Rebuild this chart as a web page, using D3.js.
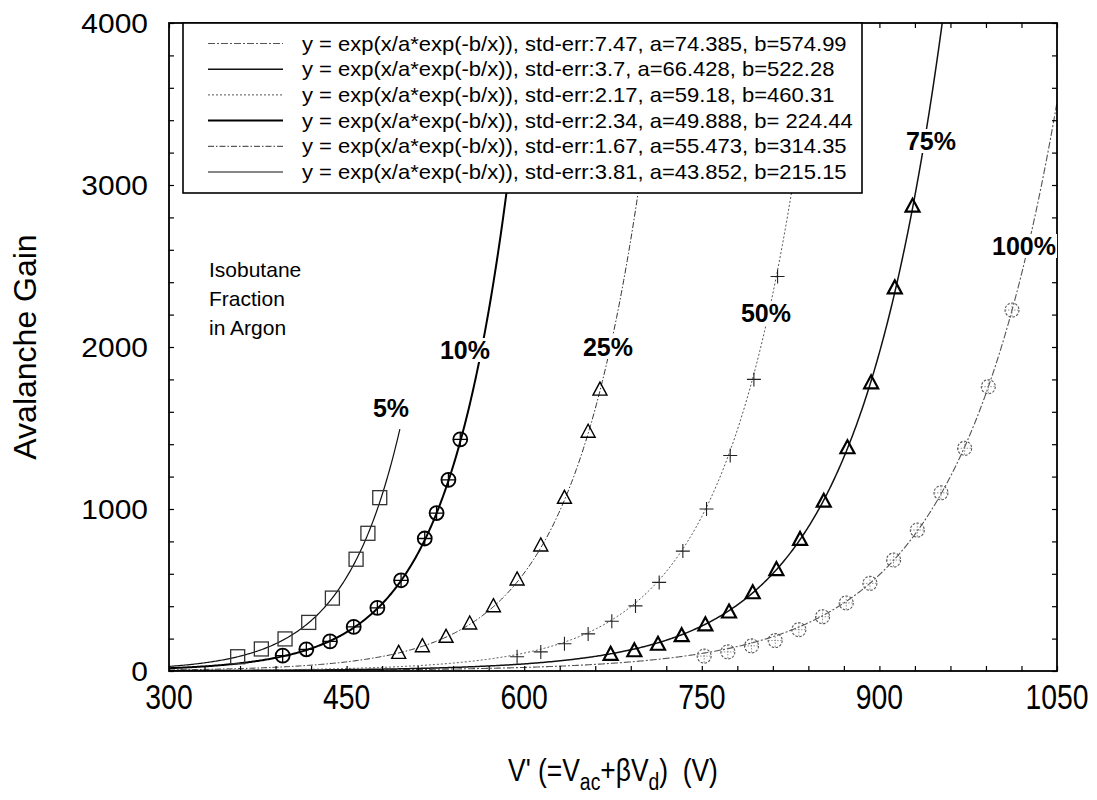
<!DOCTYPE html>
<html>
<head>
<meta charset="utf-8">
<script src="https://cdn.jsdelivr.net/npm/d3@7"></script>
<style>
  body { margin: 0; background: #fff; }
  svg { display: block; }
  text { font-family: "Liberation Sans", Arial, Helvetica, sans-serif; fill: #000; }
</style>
</head>
<body>
<svg id="chart" width="1097" height="800"></svg>
<script>
// Fit parameters of y = exp(x/a*exp(-b/x)) for each isobutane fraction
const fractions = ['100%', '75%', '50%', '10%', '25%', '5%'];
const fitA = [74.385, 66.428, 59.18, 49.888, 55.473, 43.852];
const fitB = [574.99, 522.28, 460.31, 224.44, 314.35, 215.15];
const fitBText = ['574.99', '522.28', '460.31', ' 224.44', '314.35', '215.15'];
const fitAText = ['74.385', '66.428', '59.18', '49.888', '55.473', '43.852'];
const stdErr = ['7.47', '3.7', '2.17', '2.34', '1.67', '3.81'];
const fitEnd = [1050, 1050, 1050, 1050, 1050, 495];

// Measured gain versus effective voltage V'
const v5 = [358, 378, 398, 418, 438, 458, 468, 478];
const gain5 = [88, 136, 198, 300, 450, 690, 850, 1070];
const v10 = [396, 416, 436, 456, 476, 496, 516, 526, 536, 546];
const gain10 = [95, 134, 183, 272, 390, 560, 818, 975, 1180, 1430];
const v25 = [494, 514, 534, 554, 574, 594, 614, 634, 654, 664];
const gain25 = [109, 150, 208, 290, 397, 562, 772, 1066, 1474, 1734];
const v50 = [594, 614, 634, 654, 674, 694, 714, 734, 754, 774, 794, 814];
const gain50 = [88, 118, 168, 229, 307, 402, 547, 740, 1000, 1330, 1800, 2435];
const v75 = [673, 693, 713, 733, 753, 773, 793, 813, 833, 853, 873, 893, 913, 928];
const gain75 = [100, 122, 162, 215, 282, 361, 480, 623, 809, 1045, 1375, 1776, 2362, 2866];
const v100 = [752, 772, 792, 812, 832, 852, 872, 892, 912, 932, 952, 972, 992, 1012];
const gain100 = [92, 118, 155, 188, 255, 335, 420, 541, 685, 870, 1100, 1375, 1755, 2228];

const xTicks = [300, 450, 600, 750, 900, 1050];
const yTicks = [0, 1000, 2000, 3000, 4000];

const W = 1097, H = 800;
const margin = { left: 169, right: 40, top: 23, bottom: 129 };
const svg = d3.select('#chart');
const x = d3.scaleLinear().domain([300, 1050]).range([margin.left, W - margin.right]);
const y = d3.scaleLinear().domain([0, 4000]).range([H - margin.bottom, margin.top]);
const [x0, x1] = x.range();
const [y0, y1] = y.range();

const series = [
  { v: v100, g: gain100, marker: 'circleDash', stroke: '#555', width: 1.1, dash: '7,2,2,2' },
  { v: v75, g: gain75, marker: 'triangleBold', stroke: '#111', width: 1.5, dash: null },
  { v: v50, g: gain50, marker: 'plus', stroke: '#555', width: 1, dash: '2,2' },
  { v: v10, g: gain10, marker: 'circlePlus', stroke: '#000', width: 2, dash: null },
  { v: v25, g: gain25, marker: 'triangle', stroke: '#333', width: 1, dash: '6,2,1.5,2' },
  { v: v5, g: gain5, marker: 'square', stroke: '#111', width: 1.2, dash: null }
];

svg.append('defs').append('clipPath').attr('id', 'plotClip')
  .append('rect').attr('x', x0).attr('y', y1).attr('width', x1 - x0).attr('height', y0 - y1);

// fitted curves
const line = d3.line().x(d => x(d[0])).y(d => y(d[1]));
const curves = svg.append('g').attr('clip-path', 'url(#plotClip)');
series.forEach((s, i) => {
  const pts = [];
  for (let v = 300; v <= fitEnd[i]; v += 1) {
    const g = Math.exp(v / fitA[i] * Math.exp(-fitB[i] / v));
    pts.push([v, Math.min(g, 6000)]);
    if (g > 6000) break;
  }
  curves.append('path').datum(pts)
    .attr('d', line).attr('fill', 'none')
    .attr('stroke', s.stroke).attr('stroke-width', s.width)
    .attr('stroke-dasharray', s.dash);
});

// markers
function drawMarker(g, type) {
  if (type === 'square') {
    g.append('rect').attr('x', -7).attr('y', -7).attr('width', 14).attr('height', 14)
      .attr('fill', 'none').attr('stroke', '#333').attr('stroke-width', 1.3);
  } else if (type === 'circlePlus') {
    g.append('circle').attr('r', 7).attr('fill', 'none').attr('stroke', '#000').attr('stroke-width', 1.8);
    g.append('path').attr('d', 'M-7,0H7M0,-7V7').attr('stroke', '#000').attr('stroke-width', 1.3);
  } else if (type === 'triangle' || type === 'triangleBold') {
    g.append('path').attr('d', 'M0,-8L7,5H-7Z').attr('fill', 'none')
      .attr('stroke', '#000').attr('stroke-width', type === 'triangleBold' ? 2.2 : 1.4)
      .attr('stroke-linejoin', 'miter');
  } else if (type === 'plus') {
    g.append('path').attr('d', 'M-7,0H7M0,-7V7').attr('stroke', '#222').attr('stroke-width', 1.1);
  } else if (type === 'circleDash') {
    g.append('circle').attr('r', 7).attr('fill', 'none').attr('stroke', '#555')
      .attr('stroke-width', 1.1).attr('stroke-dasharray', '2.5,1.5');
    g.append('path').attr('d', 'M-7,0H7M0,-7V7').attr('stroke', '#777').attr('stroke-width', 0.8)
      .attr('stroke-dasharray', '1.5,1.5');
  }
}
const markers = svg.append('g');
series.forEach(s => {
  s.v.forEach((v, k) => {
    const g = markers.append('g').attr('transform', `translate(${x(v)},${y(s.g[k])})`);
    drawMarker(g, s.marker);
  });
});

// frame and inward ticks
const minorX = d3.range(300, 1051, 30);
const minorY = d3.range(0, 4001, 200);
const axes = svg.append('g');
axes.append('g').attr('transform', `translate(0,${y0})`)
  .call(d3.axisBottom(x).tickValues(minorX).tickSize(-5).tickFormat(''));
axes.append('g').attr('transform', `translate(0,${y1})`)
  .call(d3.axisTop(x).tickValues(minorX).tickSize(-5).tickFormat(''));
axes.append('g').attr('transform', `translate(${x0},0)`)
  .call(d3.axisLeft(y).tickValues(minorY).tickSize(-5).tickFormat(''));
axes.append('g').attr('transform', `translate(${x1},0)`)
  .call(d3.axisRight(y).tickValues(minorY).tickSize(-5).tickFormat(''));
axes.selectAll('.domain').remove();
axes.selectAll('.tick line').attr('stroke', '#000').attr('stroke-width', 1.2);
svg.append('rect').attr('x', x0).attr('y', y1).attr('width', x1 - x0).attr('height', y0 - y1)
  .attr('fill', 'none').attr('stroke', '#000').attr('stroke-width', 1.8);

// tick labels
svg.append('g').selectAll('text').data(xTicks).join('text')
  .attr('transform', d => `translate(${x(d)},${y0 + 38}) scale(0.86,1.08)`)
  .attr('text-anchor', 'middle').attr('font-size', 33).text(d => d);
svg.append('g').selectAll('text').data(yTicks).join('text')
  .attr('transform', d => `translate(${x0 - 21},${y(d) + 10}) scale(1.07,1)`)
  .attr('text-anchor', 'end').attr('font-size', 28).text(d => d);

// axis titles
svg.append('text').attr('transform', `translate(36,347) rotate(-90)`)
  .attr('text-anchor', 'middle').attr('font-size', 32).text('Avalanche Gain');
const xt = svg.append('text').attr('transform', `translate(613,781) scale(0.88,1.05)`)
  .attr('text-anchor', 'middle').attr('font-size', 30);
xt.append('tspan').text("V' (=V");
xt.append('tspan').attr('dy', 9).attr('font-size', 22).text('ac');
xt.append('tspan').attr('dy', -9).text('+\u03B2V');
xt.append('tspan').attr('dy', 9).attr('font-size', 22).text('d');
xt.append('tspan').attr('dy', -9).text(')\u00A0\u00A0(V)');

// legend
const legX = 183, legY = y1, legW = 679, legH = 170;
const leg = svg.append('g');
leg.append('rect').attr('x', legX).attr('y', legY).attr('width', legW).attr('height', legH)
  .attr('fill', '#fff').attr('stroke', '#000').attr('stroke-width', 1.6);
series.forEach((s, i) => {
  const cy = 43.5 + i * 25.7;
  leg.append('line').attr('x1', 208).attr('x2', 283).attr('y1', cy).attr('y2', cy)
    .attr('stroke', s.stroke).attr('stroke-width', s.width).attr('stroke-dasharray', s.dash);
  leg.append('text').attr('transform', `translate(302,${cy + 7}) scale(1.1,1)`)
    .attr('font-size', 20)
    .text(`y = exp(x/a*exp(-b/x)), std-err:${stdErr[i]}, a=${fitAText[i]}, b=${fitBText[i]}`);
});

// curve labels with white backing
const labelPos = [[1024, 246], [931, 141], [766, 313], [465, 350], [608, 347], [391, 408]];
fractions.forEach((f, i) => {
  const [lx, ly] = labelPos[i];
  const t = svg.append('text').attr('x', lx).attr('y', ly + 9).attr('text-anchor', 'middle')
    .attr('font-size', 25).attr('font-weight', 'bold').text(f);
  const bb = t.node().getBBox();
  svg.insert('rect', () => t.node()).attr('x', bb.x - 1).attr('y', bb.y + 2)
    .attr('width', bb.width + 2).attr('height', bb.height - 4).attr('fill', '#fff');
});

// annotation
const note = svg.append('text').attr('font-size', 21);
['Isobutane', 'Fraction', 'in Argon'].forEach((s, k) => {
  note.append('tspan').attr('x', 209).attr('y', 277 + k * 29).text(s);
});
</script>
</body>
</html>
